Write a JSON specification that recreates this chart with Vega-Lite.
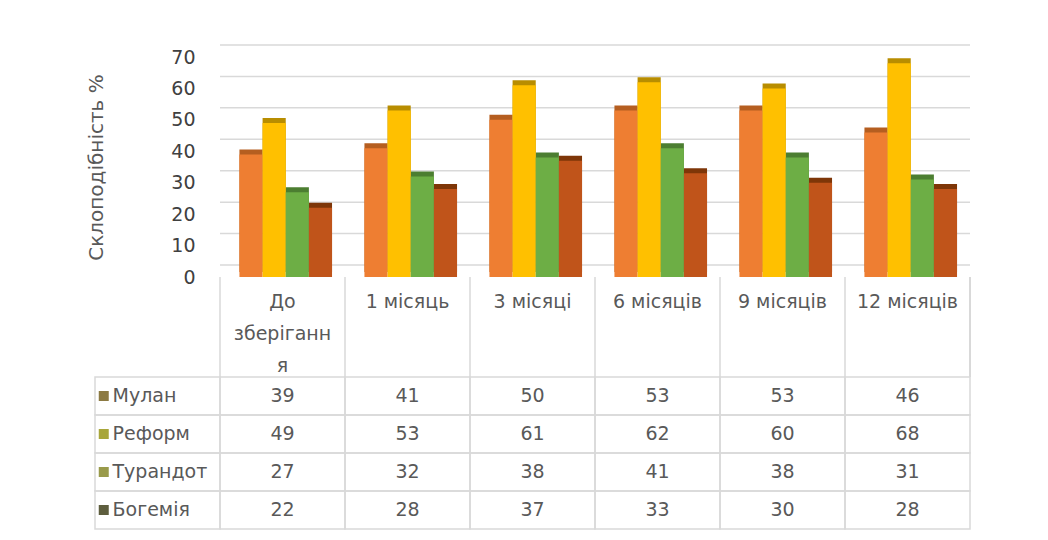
{
  "$schema": "https://vega.github.io/schema/vega-lite/v6.json",
  "background": "white",
  "padding": {"left": 86, "top": 44, "right": 0, "bottom": 0},
  "spacing": 0,
  "bounds": "flush",
  "config": {
    "view": {"stroke": null},
    "font": "DejaVu Sans",
    "text": {"font": "DejaVu Sans", "fontSize": 19, "color": "#595959"},
    "axisY": {
      "offset": -105, "values": [0, 10, 20, 30, 40, 50, 60, 70], "tickCount": 8,
      "grid": false, "domain": false, "ticks": false, "labelOverlap": false,
      "labelPadding": 5, "labelFontSize": 19, "labelColor": "#404040", "labelFont": "DejaVu Sans",
      "titlePadding": 64, "titleFontSize": 20,
      "titleFontWeight": "normal", "titleColor": "#595959", "titleFont": "DejaVu Sans"
    }
  },
  "datasets": {
    "rows": [
      {"period": "До зберігання", "series": "Мулан", "value": 39},
      {"period": "1 місяць", "series": "Мулан", "value": 41},
      {"period": "3 місяці", "series": "Мулан", "value": 50},
      {"period": "6 місяців", "series": "Мулан", "value": 53},
      {"period": "9 місяців", "series": "Мулан", "value": 53},
      {"period": "12 місяців", "series": "Мулан", "value": 46},
      {"period": "До зберігання", "series": "Реформ", "value": 49},
      {"period": "1 місяць", "series": "Реформ", "value": 53},
      {"period": "3 місяці", "series": "Реформ", "value": 61},
      {"period": "6 місяців", "series": "Реформ", "value": 62},
      {"period": "9 місяців", "series": "Реформ", "value": 60},
      {"period": "12 місяців", "series": "Реформ", "value": 68},
      {"period": "До зберігання", "series": "Турандот", "value": 27},
      {"period": "1 місяць", "series": "Турандот", "value": 32},
      {"period": "3 місяці", "series": "Турандот", "value": 38},
      {"period": "6 місяців", "series": "Турандот", "value": 41},
      {"period": "9 місяців", "series": "Турандот", "value": 38},
      {"period": "12 місяців", "series": "Турандот", "value": 31},
      {"period": "До зберігання", "series": "Богемія", "value": 22},
      {"period": "1 місяць", "series": "Богемія", "value": 28},
      {"period": "3 місяці", "series": "Богемія", "value": 37},
      {"period": "6 місяців", "series": "Богемія", "value": 33},
      {"period": "9 місяців", "series": "Богемія", "value": 30},
      {"period": "12 місяців", "series": "Богемія", "value": 28}
    ],
    "periods": [
      {"period": "До зберігання", "lines": ["До", "зберіганн", "я"]},
      {"period": "1 місяць", "lines": ["1 місяць"]},
      {"period": "3 місяці", "lines": ["3 місяці"]},
      {"period": "6 місяців", "lines": ["6 місяців"]},
      {"period": "9 місяців", "lines": ["9 місяців"]},
      {"period": "12 місяців", "lines": ["12 місяців"]}
    ],
    "series": [
      {"series": "Мулан"},
      {"series": "Реформ"},
      {"series": "Турандот"},
      {"series": "Богемія"}
    ],
    "ticks": [
      {"tick": 0}, {"tick": 10}, {"tick": 20}, {"tick": 30},
      {"tick": 40}, {"tick": 50}, {"tick": 60}, {"tick": 70}
    ]
  },
  "resolve": {"scale": {"x": "independent", "y": "independent", "color": "independent"}},
  "vconcat": [
    {
      "width": 875,
      "height": 220,
      "resolve": {"scale": {"color": "independent"}},
      "layer": [
        {
          "data": {"name": "ticks"},
          "mark": {"type": "rule", "color": "#D9D9D9", "strokeWidth": 1.5, "yOffset": -12},
          "encoding": {
            "x": {
              "datum": "До зберігання", "type": "nominal", "bandPosition": 0,
              "scale": {"domain": [" ", "До зберігання", "1 місяць", "3 місяці", "6 місяців", "9 місяців", "12 місяців"], "paddingInner": 0, "paddingOuter": 0},
              "axis": null
            },
            "x2": {"datum": "12 місяців", "bandPosition": 1},
            "y": {
              "field": "tick", "type": "quantitative",
              "scale": {"domain": [0, 70], "nice": false},
              "axis": {"title": "Склоподібність %", "values": [0, 10, 20, 30, 40, 50, 60, 70]}
            }
          }
        },
        {
          "data": {"name": "rows"},
          "mark": {"type": "bar", "xOffset": 5, "yOffset": -5},
          "encoding": {
            "x": {"field": "period", "type": "nominal"},
            "xOffset": {
              "field": "series", "type": "nominal",
              "scale": {"domain": ["Мулан", "Реформ", "Турандот", "Богемія"], "paddingInner": 0, "paddingOuter": 0.7, "align": 0.6}
            },
            "y": {"field": "value", "type": "quantitative", "axis": {"title": "Склоподібність %", "values": [0, 10, 20, 30, 40, 50, 60, 70]}},
            "color": {
              "field": "series", "type": "nominal", "legend": null,
              "scale": {"domain": ["Мулан", "Реформ", "Турандот", "Богемія"], "range": ["#B55E20", "#B88D00", "#4C7E31", "#7E3608"]}
            }
          }
        },
        {
          "data": {"name": "rows"},
          "mark": {"type": "bar"},
          "encoding": {
            "x": {"field": "period", "type": "nominal"},
            "xOffset": {"field": "series", "type": "nominal"},
            "y": {"field": "value", "type": "quantitative", "axis": {"title": "Склоподібність %", "values": [0, 10, 20, 30, 40, 50, 60, 70]}},
            "color": {
              "field": "series", "type": "nominal", "legend": null,
              "scale": {"domain": ["Мулан", "Реформ", "Турандот", "Богемія"], "range": ["#EE7E32", "#FFC000", "#6DAE45", "#C0541A"]}
            }
          }
        }
      ]
    },
    {
      "width": 875,
      "height": 100,
      "data": {"name": "periods"},
      "layer": [
        {
          "mark": {"type": "rule", "color": "#D9D9D9", "strokeWidth": 1.5},
          "encoding": {
            "x": {
              "field": "period", "type": "nominal", "bandPosition": 0,
              "scale": {"domain": [" ", "До зберігання", "1 місяць", "3 місяці", "6 місяців", "9 місяців", "12 місяців"], "paddingInner": 0, "paddingOuter": 0},
              "axis": null
            }
          }
        },
        {
          "mark": {"type": "rule", "color": "#D9D9D9", "strokeWidth": 1.5},
          "encoding": {
            "x": {"datum": "12 місяців", "type": "nominal", "bandPosition": 1}
          }
        },
        {
          "mark": {"type": "text", "baseline": "top", "align": "center", "lineHeight": 32, "dy": 16},
          "encoding": {
            "x": {"field": "period", "type": "nominal"},
            "y": {"datum": 1, "type": "quantitative", "scale": {"domain": [0, 1], "nice": false}, "axis": null},
            "text": {"field": "lines"}
          }
        }
      ]
    },
    {
      "width": 875,
      "height": 152,
      "layer": [
        {
          "data": {"name": "rows"},
          "mark": {"type": "rect", "fill": "transparent", "stroke": "#D9D9D9", "strokeWidth": 1.5},
          "encoding": {
            "x": {
              "field": "period", "type": "nominal",
              "scale": {"domain": [" ", "До зберігання", "1 місяць", "3 місяці", "6 місяців", "9 місяців", "12 місяців"], "paddingInner": 0, "paddingOuter": 0},
              "axis": null
            },
            "y": {
              "field": "series", "type": "nominal",
              "scale": {"domain": ["Мулан", "Реформ", "Турандот", "Богемія"], "paddingInner": 0, "paddingOuter": 0},
              "axis": null
            }
          }
        },
        {
          "data": {"name": "series"},
          "mark": {"type": "rect", "fill": "transparent", "stroke": "#D9D9D9", "strokeWidth": 1.5},
          "encoding": {
            "x": {"datum": " ", "type": "nominal"},
            "y": {"field": "series", "type": "nominal"}
          }
        },
        {
          "data": {"name": "series"},
          "mark": {"type": "point", "shape": "square", "filled": true, "size": 100, "opacity": 1},
          "encoding": {
            "x": {"datum": " ", "type": "nominal", "bandPosition": 0.07},
            "y": {"field": "series", "type": "nominal"},
            "color": {
              "field": "series", "type": "nominal", "legend": null,
              "scale": {"domain": ["Мулан", "Реформ", "Турандот", "Богемія"], "range": ["#8C7A42", "#A8A63A", "#999A4A", "#5E5E3E"]}
            }
          }
        },
        {
          "data": {"name": "series"},
          "mark": {"type": "text", "align": "left", "baseline": "middle"},
          "encoding": {
            "x": {"datum": " ", "type": "nominal", "bandPosition": 0.14},
            "y": {"field": "series", "type": "nominal"},
            "text": {"field": "series"}
          }
        },
        {
          "data": {"name": "rows"},
          "mark": {"type": "text", "align": "center", "baseline": "middle"},
          "encoding": {
            "x": {"field": "period", "type": "nominal"},
            "y": {"field": "series", "type": "nominal"},
            "text": {"field": "value", "type": "quantitative"}
          }
        }
      ]
    }
  ]
}
